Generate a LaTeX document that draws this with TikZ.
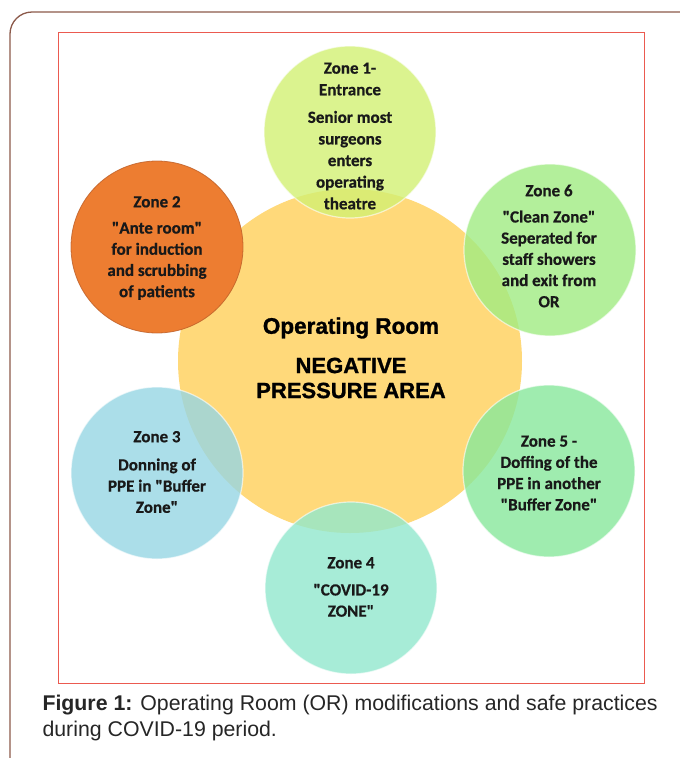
\documentclass[tikz,border=0pt]{standalone}
\usepackage{fontspec}
\setmainfont{Carlito}[Ligatures=TeXOff,BoldFeatures={FakeBold=0.6}]
\newfontfamily\arialf{Liberation Sans}
\newfontfamily\arialheavy{Liberation Sans}[BoldFeatures={FakeBold=1.2}]
\newcommand\qt{"}
\begin{document}
\begin{tikzpicture}[x=1pt,y=-1pt,
  zone/.style={circle,minimum size=172pt,inner sep=0pt,fill opacity=0.8,draw=white,draw opacity=0.6,line width=1.2pt},
  ztext/.style={align=center,font=\bfseries\fontsize{17}{21.2}\selectfont,text=black!90},
  ctext/.style={align=center,font=\arialheavy\bfseries\fontsize{22.5}{25}\selectfont,text=black}]
\useasboundingbox (0,0) rectangle (680,758);
\fill[white] (0,0) rectangle (680,758);
% outer frame
\draw[draw={rgb,255:red,140;green,90;blue,75},line width=1.3pt,rounded corners=22pt] (10,790) -- (10,12) -- (720,12);
% inner frame
\draw[draw={rgb,255:red,235;green,90;blue,80},line width=0.8pt] (58,32) rectangle (644,683);
% central circle
\node[circle,minimum size=344pt,inner sep=0pt,fill={rgb,255:red,255;green,217;blue,122}] (or) at (350,361) {};
% zones
\node[zone,fill={rgb,255:red,210;green,240;blue,115}] (z1) at (350,132) {};
\node[zone,fill={rgb,255:red,237;green,125;blue,49},fill opacity=1,draw={rgb,255:red,190;green,95;blue,40},draw opacity=0.8,line width=0.8pt] (z2) at (157,247) {};
\node[zone,fill={rgb,255:red,160;green,236;blue,130}] (z6) at (550,250) {};
\node[zone,fill={rgb,255:red,150;green,214;blue,228}] (z3) at (157,473) {};
\node[zone,fill={rgb,255:red,135;green,232;blue,155}] (z5) at (549,471) {};
\node[zone,fill={rgb,255:red,145;green,232;blue,205}] (z4) at (351,588) {};
% texts
\node[ztext,font=\bfseries\fontsize{17}{21.6}\selectfont] (t1) at (350,136) {Zone 1-\\Entrance\\[6pt]Senior most\\surgeons\\enters\\operating\\theatre};
\node[ztext] (t2) at (157,248) {Zone 2\\[5pt]\qt Ante room\qt\\for induction\\and scrubbing\\of patients};
\node[ztext] (t6) at (549,246) {Zone 6\\[5pt]\qt Clean Zone\qt\\Seperated for\\staff showers\\and exit from\\OR};
\node[ztext] (t3) at (157,472) {Zone 3\\[7pt]Donning of\\PPE in \qt Buffer\\Zone\qt};
\node[ztext] (t5) at (549,473) {Zone 5 -\\Doffing of the\\PPE in another\\\qt Buffer Zone\qt};
\node[ztext] (t4) at (351,587) {Zone 4\\[6pt]\qt COVID-19\\ZONE\qt};
\node[ctext] (c1) at (351,328) {Operating Room};
\node[ctext,font=\arialheavy\bfseries\fontsize{22}{25}\selectfont] (c2) at (351,378) {NEGATIVE\\PRESSURE AREA};
% caption
\node[anchor=west,align=left,font=\arialf\fontsize{21.3}{26}\selectfont,text=black!85] (cap) at (39,718)
  {\textbf{Figure 1:} Operating Room (OR) modifications and safe practices\\during COVID-19 period.};
\end{tikzpicture}
\end{document}
